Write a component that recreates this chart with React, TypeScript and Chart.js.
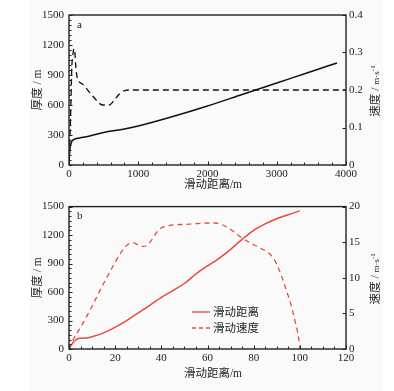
import React, { useEffect, useRef } from "react";
import { Chart, registerables } from "chart.js";

Chart.register(...registerables);

// ---- Panel a data ----
const distA = [0, 5, 10, 20, 40, 70, 150, 300, 500, 800, 1000, 1500, 2000, 2500, 3000, 3500, 3870];
const thickA = [0, 80, 140, 190, 235, 255, 270, 290, 325, 360, 390, 485, 590, 705, 820, 935, 1020];
const speedDistA = [0, 15, 30, 40, 55, 70, 85, 95, 105, 120, 200, 300, 400, 480, 580, 650, 720, 800, 880, 4000];
const speedA = [0, 0.08, 0.18, 0.26, 0.29, 0.31, 0.3, 0.27, 0.25, 0.232, 0.215, 0.193, 0.172, 0.16, 0.16, 0.172, 0.188, 0.198, 0.2, 0.2];

// ---- Panel b data ----
const distB = [0, 1, 2, 3, 4, 5, 7, 10, 15, 20, 25, 30, 35, 40, 45, 50, 55, 60, 65, 70, 75, 80, 85, 90, 95, 100];
const thickB = [0, 40, 75, 95, 110, 113, 115, 130, 170, 230, 300, 380, 460, 545, 615, 690, 790, 875, 955, 1050, 1155, 1250, 1318, 1372, 1415, 1455];
const speedDistB = [0, 1, 2.5, 4, 6, 8, 10, 12, 14, 16, 18, 20, 22, 24, 26, 28, 30, 32, 34, 36, 38, 40, 43, 46, 50, 55, 60, 63, 66, 70, 74, 78, 82, 86, 88, 90, 92, 94, 96, 98, 99.5, 100];
const speedB = [0, 0.8, 1.7, 2.5, 3.6, 4.8, 6, 7.3, 8.6, 9.8, 11, 12.2, 13.3, 14.2, 14.8, 14.9, 14.6, 14.4, 14.6, 15.4, 16.4, 17, 17.3, 17.45, 17.5, 17.6, 17.7, 17.7, 17.5, 16.8, 15.8, 15, 14.3, 13.6, 13, 11.9, 10.3, 8.4, 6.4, 3.8, 1.5, 0];

const legendLabels = ["滑动距离", "滑动速度"];
const xTitle = "滑动距离/m";
const yTitle = "厚度 / m";

const RED = "#e8493f";
const INK = "#222";
const SERIF = '"Liberation Serif", "Noto Sans CJK SC", serif';

type Seg = { t: string; size: number; dy?: number };

function drawRich(ctx: CanvasRenderingContext2D, segs: Seg[], cx: number, cy: number, rot: number) {
  ctx.save();
  ctx.translate(cx, cy);
  ctx.rotate(rot);
  ctx.fillStyle = INK;
  ctx.textAlign = "left";
  ctx.textBaseline = "alphabetic";
  let total = 0;
  const widths = segs.map((s) => {
    ctx.font = `${s.size}px ${SERIF}`;
    const w = ctx.measureText(s.t).width;
    total += w;
    return w;
  });
  let x = -total / 2;
  segs.forEach((s, i) => {
    ctx.font = `${s.size}px ${SERIF}`;
    ctx.fillText(s.t, x, 4 + (s.dy || 0));
    x += widths[i];
  });
  ctx.restore();
}

type DecorCfg = {
  label: string;
  xMajor: number;
  xMinor: number;
  yMajor: number;
  yMinor: number;
  y1Major: number;
  xTitleY: number;
  legendColor?: string;
};

function makeDecor(cfg: DecorCfg) {
  return {
    id: "decor" + cfg.label,
    afterDraw(chart: any) {
      const ctx: CanvasRenderingContext2D = chart.ctx;
      const { left, right, top, bottom } = chart.chartArea;
      const xs = chart.scales.x;
      const ys = chart.scales.y;
      const y1 = chart.scales.y1;
      ctx.save();
      ctx.strokeStyle = INK;
      ctx.lineWidth = 1.4;
      ctx.strokeRect(left, top, right - left, bottom - top);
      ctx.lineWidth = 1;
      ctx.beginPath();
      for (let v = xs.min; v <= xs.max + 1e-9; v += cfg.xMinor) {
        const p = Math.round(xs.getPixelForValue(v)) + 0.5;
        const major = Math.abs(v / cfg.xMajor - Math.round(v / cfg.xMajor)) < 1e-6;
        const len = major ? 3.5 : 2.5;
        ctx.moveTo(p, bottom);
        ctx.lineTo(p, bottom - len);
      }
      for (let v = ys.min; v <= ys.max + 1e-9; v += cfg.yMinor) {
        const p = Math.round(ys.getPixelForValue(v)) + 0.5;
        const major = Math.abs(v / cfg.yMajor - Math.round(v / cfg.yMajor)) < 1e-6;
        const len = major ? 3.5 : 2.5;
        ctx.moveTo(left, p);
        ctx.lineTo(left + len, p);
      }
      for (let v = y1.min; v <= y1.max + 1e-9; v += cfg.y1Major) {
        const p = Math.round(y1.getPixelForValue(v)) + 0.5;
        ctx.moveTo(right, p);
        ctx.lineTo(right - 3.5, p);
      }
      ctx.stroke();

      // panel label
      ctx.fillStyle = INK;
      ctx.font = `11px ${SERIF}`;
      ctx.textAlign = "left";
      ctx.textBaseline = "middle";
      ctx.fillText(cfg.label, left + 8, top + 10);

      // axis titles
      const cyPlot = (top + bottom) / 2;
      drawRich(ctx, [{ t: xTitle, size: 11.5 }], 213, cfg.xTitleY, 0);
      drawRich(ctx, [{ t: yTitle, size: 11.5 }], 37, cyPlot, -Math.PI / 2);
      drawRich(
        ctx,
        [
          { t: "速度 / ", size: 11.5 },
          { t: "m·s", size: 9 },
          { t: "-1", size: 7, dy: -4 },
        ],
        375,
        cyPlot + 1,
        -Math.PI / 2
      );

      // legend
      if (cfg.legendColor) {
        const rows = [312 - 195, 328 - 195];
        ctx.strokeStyle = cfg.legendColor;
        ctx.lineWidth = 1.3;
        rows.forEach((ry, i) => {
          ctx.setLineDash(i === 0 ? [] : [4, 3]);
          ctx.beginPath();
          ctx.moveTo(192, ry);
          ctx.lineTo(210, ry);
          ctx.stroke();
        });
        ctx.setLineDash([]);
        ctx.fillStyle = INK;
        ctx.font = `11.5px ${SERIF}`;
        ctx.textBaseline = "middle";
        rows.forEach((ry, i) => ctx.fillText(legendLabels[i], 213, ry + 0.5));
      }
      ctx.restore();
    },
  };
}

function fitW(w: number) {
  return (scale: any) => {
    scale.width = w;
  };
}
function fitH(h: number) {
  return (scale: any) => {
    scale.height = h;
  };
}

const tickFont = { family: '"Liberation Serif", serif', size: 11 };
const plain = (v: any) => String(+Number(v).toFixed(2));

function buildConfig(p: {
  d1x: number[]; d1y: number[]; d2x: number[]; d2y: number[];
  color: string; dash: number[]; xMax: number; xStep: number; y1Max: number; y1Step: number;
  padTop: number; xH: number; decor: any;
}) {
  return {
    type: "line",
    data: {
      datasets: [
        {
          data: p.d1x.map((x, i) => ({ x, y: p.d1y[i] })),
          yAxisID: "y",
          borderColor: p.color,
          borderWidth: 1.5,
          pointRadius: 0,
          cubicInterpolationMode: "monotone",
          fill: false,
        },
        {
          data: p.d2x.map((x, i) => ({ x, y: p.d2y[i] })),
          yAxisID: "y1",
          borderColor: p.color,
          borderWidth: 1.3,
          borderDash: p.dash,
          pointRadius: 0,
          cubicInterpolationMode: "monotone",
          fill: false,
        },
      ],
    },
    options: {
      animation: false,
      responsive: false,
      devicePixelRatio: 1,
      layout: { padding: { top: p.padTop, left: 0, right: 0, bottom: 0 } },
      plugins: { legend: { display: false }, tooltip: { enabled: false } },
      scales: {
        x: {
          type: "linear",
          min: 0,
          max: p.xMax,
          grid: { display: false, drawTicks: false },
          border: { display: false },
          ticks: { stepSize: p.xStep, font: tickFont, color: INK, padding: 3, maxRotation: 0, callback: plain },
          afterFit: fitH(p.xH),
        },
        y: {
          position: "left",
          min: 0,
          max: 1500,
          grid: { display: false, drawTicks: false },
          border: { display: false },
          ticks: { stepSize: 300, font: tickFont, color: INK, padding: 5, callback: plain },
          afterFit: fitW(69),
        },
        y1: {
          position: "right",
          min: 0,
          max: p.y1Max,
          grid: { display: false, drawTicks: false },
          border: { display: false },
          ticks: { stepSize: p.y1Step, font: tickFont, color: INK, padding: 3, callback: plain },
          afterFit: fitW(48),
        },
      },
    },
    plugins: [p.decor],
  };
}

export default function App() {
  const refA = useRef<HTMLCanvasElement>(null);
  const refB = useRef<HTMLCanvasElement>(null);

  useEffect(() => {
    const cA = new Chart(
      refA.current as HTMLCanvasElement,
      buildConfig({
        d1x: distA, d1y: thickA, d2x: speedDistA, d2y: speedA,
        color: "#111", dash: [6, 4], xMax: 4000, xStep: 1000, y1Max: 0.4, y1Step: 0.1,
        padTop: 15, xH: 30,
        decor: makeDecor({ label: "a", xMajor: 1000, xMinor: 200, yMajor: 300, yMinor: 50, y1Major: 0.1, xTitleY: 184 }),
      }) as any
    );
    const cB = new Chart(
      refB.current as HTMLCanvasElement,
      buildConfig({
        d1x: distB, d1y: thickB, d2x: speedDistB, d2y: speedB,
        color: RED, dash: [5, 4], xMax: 120, xStep: 20, y1Max: 20, y1Step: 5,
        padTop: 10, xH: 42,
        decor: makeDecor({ label: "b", xMajor: 20, xMinor: 5, yMajor: 300, yMinor: 50, y1Major: 5, xTitleY: 373 - 195, legendColor: RED }),
      }) as any
    );
    return () => {
      cA.destroy();
      cB.destroy();
    };
  }, []);

  return (
    <div style={{ position: "absolute", left: 0, top: 0, width: 394, height: 391, background: "#fff" }}>
      <div style={{ position: "absolute", left: 30, top: 0, width: 353, height: 391, background: "#fafafa" }} />
      <canvas ref={refA} width={394} height={195} style={{ position: "absolute", left: 0, top: 0, width: 394, height: 195 }} />
      <canvas ref={refB} width={394} height={196} style={{ position: "absolute", left: 0, top: 195, width: 394, height: 196 }} />
    </div>
  );
}
